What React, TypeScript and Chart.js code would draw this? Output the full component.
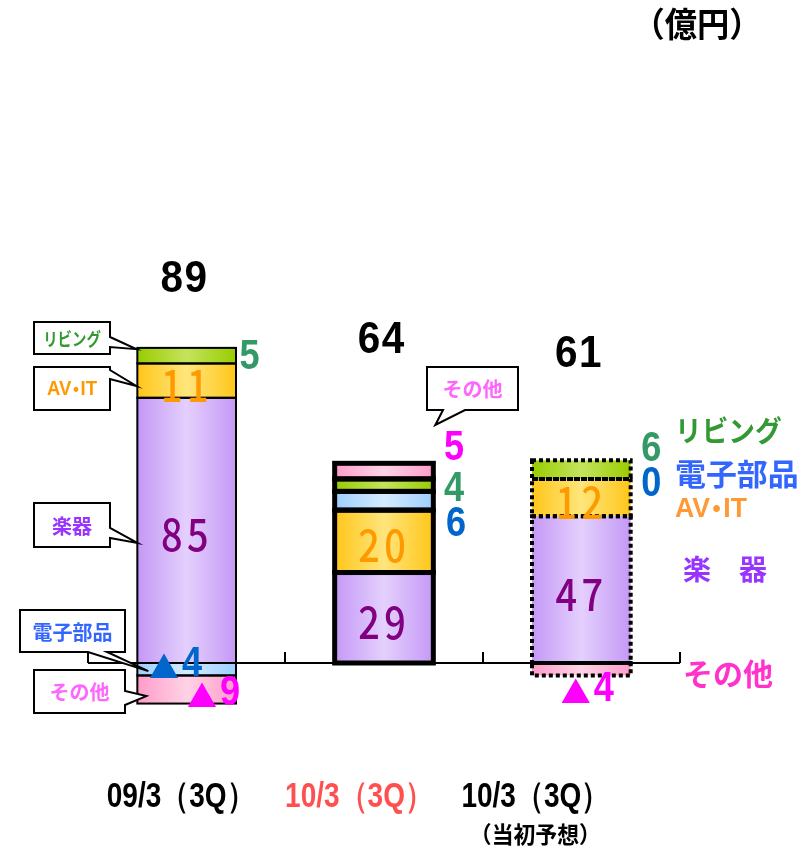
import React, { useEffect, useRef } from "react";
import { Chart, registerables } from "chart.js";

Chart.register(...registerables);

// Periods shown under the bars
const periods = ["09/3（3Q）", "10/3（3Q）", "10/3（3Q）"];
const periodNotes = ["", "", "（当初予想）"];
const periodColors = ["#000000", "#ff5050", "#000000"];

// Operating income by segment (億円); negative values are losses (▲)
const segmentNames = ["楽器", "AV・IT", "電子部品", "リビング", "その他"];
const instruments = [85, 29, 47];
const avIt = [11, 20, 12];
const components = [-4, 6, 0];
const living = [5, 4, 6];
const others = [-9, 5, -4];
const totals = [89, 64, 61];

const seriesList = [instruments, avIt, components, living, others];

// Fill gradient stops (edge / centre) per segment
const segmentEdge = ["#c498f6", "#ffc619", "#9dceff", "#99cc00", "#ff9cca"];
const segmentMid = ["#e4d0fd", "#ffe57c", "#d4eaff", "#c4e35e", "#ffd2e6"];

// Outline style per bar: actual, actual (current), plan
const outlineKinds = ["solid", "heavy", "dashed"];

const JP = '"Noto Sans CJK JP", "Noto Sans", sans-serif';
const NUM = '"Liberation Sans", Arial, sans-serif';

const BAR_PCT = 0.5;

function gradientFill(si: number) {
  return (c: any) => {
    const chart = c.chart;
    const xs = chart.scales?.x;
    if (!xs || c.dataIndex == null) return segmentEdge[si];
    const cx = xs.getPixelForValue(c.dataIndex);
    const half = ((xs.width / periods.length) * BAR_PCT) / 2;
    if (!isFinite(cx) || !isFinite(half) || half <= 0) return segmentEdge[si];
    const g = chart.ctx.createLinearGradient(cx - half, 0, cx + half, 0);
    g.addColorStop(0, segmentEdge[si]);
    g.addColorStop(0.5, segmentMid[si]);
    g.addColorStop(1, segmentEdge[si]);
    return g;
  };
}

function text(
  ctx: CanvasRenderingContext2D,
  s: string,
  x: number,
  y: number,
  font: string,
  color: string,
  sx = 1,
  align: CanvasTextAlign = "center",
  baseline: CanvasTextBaseline = "middle"
) {
  ctx.save();
  ctx.font = font;
  ctx.fillStyle = color;
  ctx.textAlign = align;
  ctx.textBaseline = baseline;
  ctx.translate(x, y);
  ctx.scale(sx, 1);
  ctx.fillText(s, 0, 0);
  ctx.restore();
}

// Latin label with a narrow middle dot, e.g. "AV・IT"
function dottedText(
  ctx: CanvasRenderingContext2D,
  s: string,
  x: number,
  y: number,
  size: number,
  color: string,
  sx: number,
  align: "left" | "center"
) {
  const [a, b] = s.split("・");
  const latin = `bold ${size}px ${NUM}`;
  const dotFont = `bold ${size}px ${JP}`;
  ctx.save();
  ctx.font = latin;
  const wa = ctx.measureText(a).width;
  const wb = ctx.measureText(b).width;
  const wd = size * 0.5;
  const total = (wa + wd + wb) * sx;
  const cur = align === "center" ? x - total / 2 : x;
  ctx.translate(cur, y);
  ctx.scale(sx, 1);
  ctx.fillStyle = color;
  ctx.textBaseline = "middle";
  ctx.textAlign = "left";
  ctx.fillText(a, 0, 0);
  ctx.font = dotFont;
  ctx.textAlign = "center";
  ctx.fillText("・", wa + wd / 2, 0);
  ctx.font = latin;
  ctx.textAlign = "left";
  ctx.fillText(b, wa + wd, 0);
  ctx.restore();
}

// digits centred visually on (cx, cy), one glyph per pitch step
function spacedDigits(
  ctx: CanvasRenderingContext2D,
  s: string,
  cx: number,
  cy: number,
  font: string,
  capH: number,
  pitch: number,
  sx: number,
  color: string
) {
  const base = cy + capH / 2;
  for (let i = 0; i < s.length; i++) {
    const x = cx + (i - (s.length - 1) / 2) * pitch;
    text(ctx, s[i], x, base, font, color, sx, "center", "alphabetic");
  }
}

// value tag such as "5" or "▲4"
function valueTag(ctx: CanvasRenderingContext2D, v: number, cx: number, cy: number, color: string) {
  const size = 42;
  const sx = 0.86;
  const digits = String(Math.abs(v));
  const neg = v < 0;
  ctx.save();
  ctx.font = `bold ${size}px ${NUM}`;
  const dw = ctx.measureText(digits).width * sx;
  const triFont = `bold 30px ${JP}`;
  ctx.font = triFont;
  const tw = neg ? ctx.measureText("▲").width : 0;
  const gap = neg ? 3 : 0;
  let x = cx - (tw + gap + dw) / 2;
  const base = cy + size * 0.358;
  ctx.fillStyle = color;
  ctx.textAlign = "left";
  ctx.textBaseline = "alphabetic";
  if (neg) {
    ctx.fillText("▲", x, base + 2);
    x += tw + gap;
  }
  ctx.font = `bold ${size}px ${NUM}`;
  ctx.translate(x, base);
  ctx.scale(sx, 1);
  ctx.fillText(digits, 0, 0);
  ctx.restore();
}

type Side = "right" | "bottom";

function calloutShape(
  ctx: CanvasRenderingContext2D,
  box: [number, number, number, number],
  side: Side,
  a: number,
  b: number,
  tip: [number, number]
) {
  const [x0, y0, x1, y1] = box;
  ctx.save();
  ctx.beginPath();
  ctx.moveTo(x0, y0);
  ctx.lineTo(x1, y0);
  if (side === "right") {
    ctx.lineTo(x1, a);
    ctx.lineTo(tip[0], tip[1]);
    ctx.lineTo(x1, b);
    ctx.lineTo(x1, y1);
    ctx.lineTo(x0, y1);
  } else {
    ctx.lineTo(x1, y1);
    ctx.lineTo(b, y1);
    ctx.lineTo(tip[0], tip[1]);
    ctx.lineTo(a, y1);
    ctx.lineTo(x0, y1);
  }
  ctx.closePath();
  ctx.fillStyle = "#ffffff";
  ctx.fill();
  ctx.lineWidth = 2;
  ctx.strokeStyle = "#000000";
  ctx.lineJoin = "miter";
  ctx.stroke();
  ctx.restore();
}

function callout(
  ctx: CanvasRenderingContext2D,
  box: [number, number, number, number],
  side: Side,
  a: number,
  b: number,
  tip: [number, number],
  label: string,
  color: string,
  size: number,
  sx = 1
) {
  calloutShape(ctx, box, side, a, b, tip);
  const [x0, y0, x1, y1] = box;
  const cx = (x0 + x1) / 2;
  const cy = (y0 + y1) / 2 + 1;
  if (label.includes("・")) dottedText(ctx, label, cx, cy, size, color, sx, "center");
  else text(ctx, label, cx, cy, `bold ${size}px ${JP}`, color, sx);
}

const tagColors: Record<number, string> = { 2: "#0066cc", 3: "#339966", 4: "#ff00ff" };

// outside value tags: bar, segment, x offset from bar centre, height on the value axis
const valueTags = [
  { bar: 0, ds: 3, dx: 63, lv: 99 },
  { bar: 0, ds: 2, dx: -11, lv: 0.8 },
  { bar: 0, ds: 4, dx: 27, lv: -8.8 },
  { bar: 1, ds: 4, dx: 70, lv: 70 },
  { bar: 1, ds: 3, dx: 70, lv: 56.7 },
  { bar: 1, ds: 2, dx: 72, lv: 45.5 },
  { bar: 2, ds: 3, dx: 70, lv: 69.6 },
  { bar: 2, ds: 2, dx: 70, lv: 58.3 },
  { bar: 2, ds: 4, dx: 6, lv: -7.2 },
];

const totalLevels = [124, 104.5, 100];
const innerColors = ["#800080", "#ff9900"];

const overlay = {
  id: "overlay",
  beforeDatasetsDraw(chart: any) {
    const ctx: CanvasRenderingContext2D = chart.ctx;
    const { left, right } = chart.chartArea;
    const y0 = chart.scales.y.getPixelForValue(0);
    const step = (right - left) / periods.length;
    ctx.save();
    ctx.strokeStyle = "#000";
    ctx.lineWidth = 2;
    ctx.beginPath();
    ctx.moveTo(left, y0);
    ctx.lineTo(right, y0);
    for (let k = 0; k <= periods.length; k++) {
      const x = Math.round(left + k * step);
      ctx.moveTo(x, y0);
      ctx.lineTo(x, y0 - 11);
    }
    ctx.stroke();
    ctx.restore();
  },
  afterDatasetsDraw(chart: any) {
    const ctx: CanvasRenderingContext2D = chart.ctx;
    const ys = chart.scales.y;
    const xs = chart.scales.x;
    const { right } = chart.chartArea;

    // segment outlines
    chart.data.datasets.forEach((ds: any, di: number) => {
      const meta = chart.getDatasetMeta(di);
      meta.data.forEach((el: any, i: number) => {
        const v = ds.data[i] as number;
        if (!v) return;
        const p = el.getProps(["x", "y", "base", "width"], true);
        const l = p.x - p.width / 2;
        const t = Math.min(p.y, p.base);
        const h = Math.abs(p.base - p.y);
        ctx.save();
        ctx.strokeStyle = "#000";
        const kind = outlineKinds[i];
        if (kind === "solid") ctx.lineWidth = 2;
        else if (kind === "heavy") ctx.lineWidth = 5;
        else {
          ctx.lineWidth = 4;
          ctx.setLineDash([4, 3]);
        }
        ctx.strokeRect(l, t, p.width, h);
        ctx.restore();
      });
    });

    // values inside 楽器 / AV・IT
    const innerFont = `500 44px "Noto Sans CJK JP", ${NUM}`;
    [0, 1].forEach((di) => {
      const meta = chart.getDatasetMeta(di);
      meta.data.forEach((el: any, i: number) => {
        const p = el.getProps(["x", "y", "base"], true);
        const cy = (p.y + p.base) / 2 + 5;
        spacedDigits(ctx, String(seriesList[di][i]), p.x - 2, cy, innerFont, 32, 26, 0.86, innerColors[di]);
      });
    });

    // other segment values
    valueTags.forEach((t) => {
      const cx = xs.getPixelForValue(t.bar) + t.dx;
      const cy = ys.getPixelForValue(t.lv);
      valueTag(ctx, seriesList[t.ds][t.bar], cx, cy, tagColors[t.ds]);
    });

    // totals
    totals.forEach((v, i) => {
      const cx = xs.getPixelForValue(i) - 3;
      const cy = ys.getPixelForValue(totalLevels[i]);
      spacedDigits(ctx, String(v), cx, cy, `bold 44px ${NUM}`, 31.5, 24, 0.92, "#000");
    });

    // callouts on the first and second bars
    const bar0 = chart.getDatasetMeta(0).data[0].getProps(["x", "width"], true);
    const bar1 = chart.getDatasetMeta(0).data[1].getProps(["x", "width"], true);
    const l0 = bar0.x - bar0.width / 2;
    const r1 = bar1.x + bar1.width / 2;
    const py = (v: number) => ys.getPixelForValue(v);
    callout(ctx, [34, 322, 110, 354], "right", 337, 347, [l0 - 1, py(100.6)], "リビング", "#339933", 18, 0.8);
    callout(ctx, [34, 367, 110, 410], "right", 370, 379, [l0 - 1, py(88.8)], "AV・IT", "#ff9900", 21, 0.88);
    callout(ctx, [34, 503, 110, 547], "right", 528, 538, [l0, py(38.5)], "楽器", "#9933ff", 20);
    callout(ctx, [20, 610, 125, 652], "bottom", 88, 107, [l0 + 11, py(-2.6)], "電子部品", "#3366ff", 20);
    callout(ctx, [34, 670, 125, 713], "right", 691, 705, [l0 + 9, py(-10.6)], "その他", "#ff66ff", 20);
    callout(ctx, [427, 367, 518, 410], "bottom", 443, 465, [r1 + 2, py(76.3)], "その他", "#ff66ff", 20);

    // segment names beside the plan bar
    const cf = (s: number) => `bold ${s}px ${JP}`;
    const lx = right - 5;
    text(ctx, "リビング", lx, 431, cf(29), "#339933", 0.92, "left");
    text(ctx, "電子部品", lx, 474, cf(30), "#3366ff", 1.03, "left");
    dottedText(ctx, "AV・IT", lx, 509, 28, "#ff9933", 0.95, "left");
    text(ctx, "楽　器", right + 3, 569, cf(28), "#9933ff", 1, "left");
    text(ctx, "その他", right + 3, 674, cf(30), "#ff33cc", 1, "left");

    // period labels
    const labelDx = [-6, -25, -46];
    periods.forEach((p, i) => {
      const cx = xs.getPixelForValue(i) + labelDx[i];
      text(ctx, p, cx, 797, `bold 35px ${NUM}`, periodColors[i], 0.8);
      if (periodNotes[i]) text(ctx, periodNotes[i], cx, 834, cf(23), periodColors[i], 0.95);
    });

    // unit
    text(ctx, "（億円）", 697, 24, cf(34), "#000", 0.95);
  },
};

export default function App() {
  const ref = useRef<HTMLCanvasElement>(null);

  useEffect(() => {
    const canvas = ref.current;
    if (!canvas) return;
    const chart = new Chart(canvas, {
      type: "bar",
      data: {
        labels: periods,
        datasets: segmentNames.map((name, si) => ({
          label: name,
          data: seriesList[si],
          backgroundColor: gradientFill(si),
          borderWidth: 0,
          borderSkipped: false,
          stack: "income",
        })),
      },
      options: {
        animation: false,
        responsive: false,
        devicePixelRatio: 1,
        layout: { padding: { left: 88, right: 128, top: 101.4, bottom: 120.6 } },
        datasets: { bar: { categoryPercentage: 1, barPercentage: BAR_PCT } },
        scales: {
          x: { type: "category", stacked: true, display: false },
          y: { type: "linear", stacked: true, min: -20, max: 180, display: false },
        },
        plugins: { legend: { display: false }, tooltip: { enabled: false } },
        events: [],
      },
      plugins: [overlay],
    });
    return () => chart.destroy();
  }, []);

  return (
    <div style={{ position: "absolute", left: 0, top: 0, width: 808, height: 846, background: "#ffffff" }}>
      <canvas ref={ref} width={808} height={846} style={{ display: "block", width: 808, height: 846 }} />
    </div>
  );
}
